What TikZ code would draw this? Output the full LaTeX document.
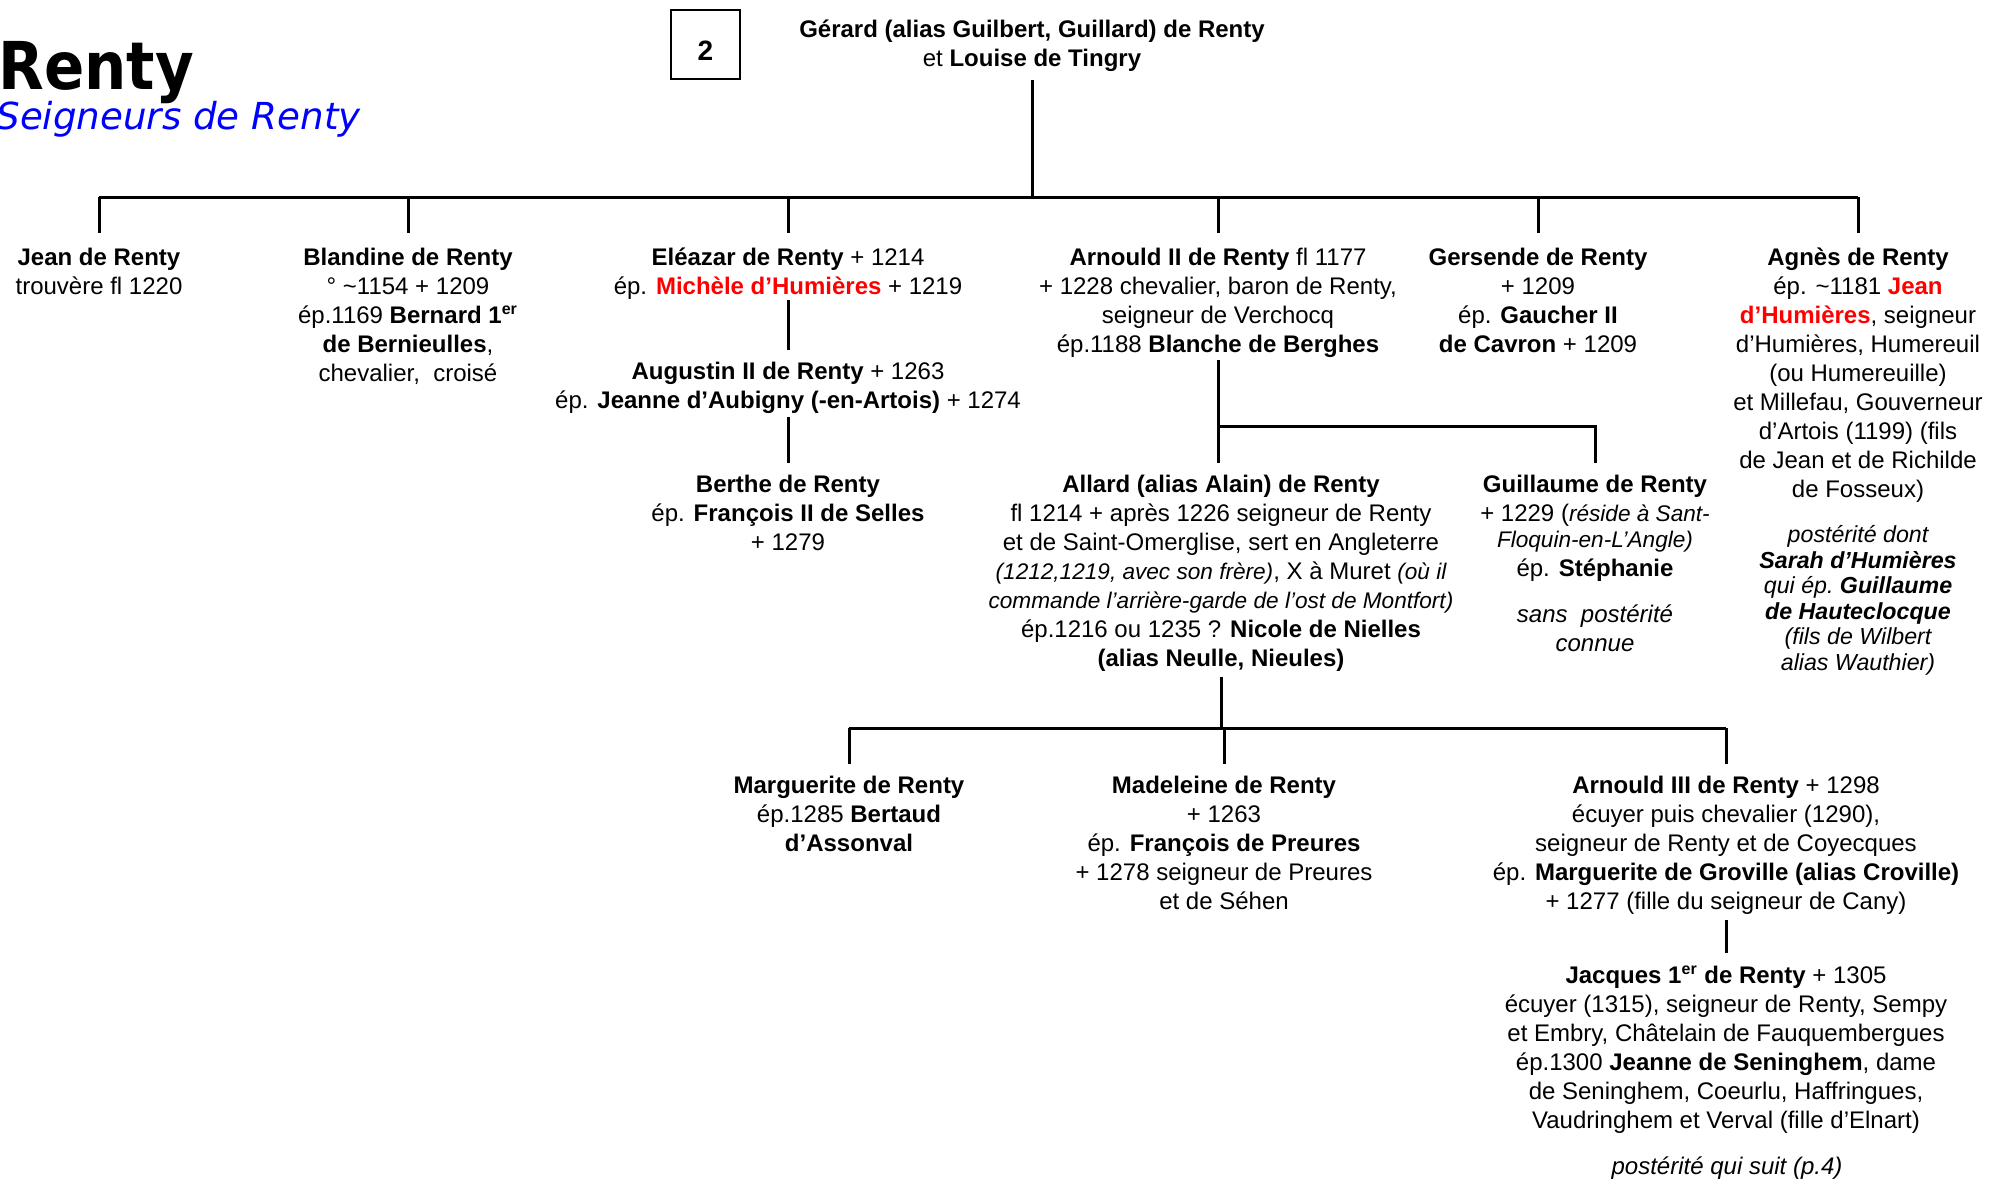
\documentclass[tikz,border=0pt]{standalone}
\usepackage{fontspec}
\setmainfont{Liberation Sans}
\newfontfamily\titlefont{DejaVu Sans}
\definecolor{hred}{RGB}{255,0,0}
\definecolor{hblue}{RGB}{0,0,255}
\newcommand\persfont{\fontsize{12}{14.5}\selectfont}
\newcommand\itsm{\itshape\fontsize{11.3}{12}\selectfont}
\newcommand\firstln{\rule{0pt}{11pt}}
\tikzset{
  person/.style={anchor=north, align=center, inner sep=0pt, font=\persfont},
  smallnote/.style={anchor=north, align=center, inner sep=0pt, font=\itshape\fontsize{11.6}{12.8}\selectfont},
  link/.style={line width=1.5pt},
}
\begin{document}
\begin{tikzpicture}[x=0.5pt,y=-0.5pt]
\useasboundingbox (0,0) rectangle (1993,1179);

% title
\node[anchor=base west, inner sep=0pt, font=\titlefont\bfseries\fontsize{33}{36}\selectfont] (title) at (-2,89) {\scalebox{0.9}[1]{Renty}};
\node[anchor=base west, inner sep=0pt, text=hblue, font=\titlefont\itshape\fontsize{18.6}{20}\selectfont] (subtitle) at (-4,129) {Seigneurs de Renty};

\node[draw, line width=0.6pt, minimum width=34.5pt, minimum height=34.5pt, inner sep=0pt] (numbox) at (705.5,44.5) {};
\node[inner sep=0pt, font=\bfseries\fontsize{14}{16}\selectfont] (numtxt) at (705.5,51) {2};

% root
\node[person] (root) at (1032,15) {\firstln\textbf{Gérard (alias Guilbert, Guillard) de Renty}\\et \textbf{Louise de Tingry}};

% generation 1
\node[person] (jean) at (99,243) {\firstln\textbf{Jean de Renty}\\trouvère fl 1220};
\node[person] (blandine) at (408,243) {\firstln\textbf{Blandine de Renty}\\° \textasciitilde1154 + 1209\\ép.1169 \textbf{Bernard 1\textsuperscript{er}}\\\textbf{de Bernieulles},\\chevalier,\ \ croisé};
\node[person] (eleazar) at (788,243) {\firstln\textbf{Eléazar de Renty} + 1214\\ép. \textcolor{hred}{\textbf{Michèle d’Humières}} + 1219};
\node[person] (arnould) at (1218,243) {\firstln\textbf{Arnould II de Renty} fl 1177\\+ 1228 chevalier, baron de Renty,\\seigneur de Verchocq\\ép.1188 \textbf{Blanche de Berghes}};
\node[person] (gersende) at (1538,243) {\firstln\textbf{Gersende de Renty}\\+ 1209\\ép. \textbf{Gaucher II}\\\textbf{de Cavron} + 1209};
\node[person] (agnes) at (1858,243) {\firstln\textbf{Agnès de Renty}\\ép. \textasciitilde1181 \textcolor{hred}{\textbf{Jean}}\\\textcolor{hred}{\textbf{d’Humières}}, seigneur\\d’Humières, Humereuil\\(ou Humereuille)\\et Millefau, Gouverneur\\d’Artois (1199) (fils\\de Jean et de Richilde\\de Fosseux)};
\node[smallnote] (agnesP) at (1858,520) {\firstln postérité\ dont\\\textbf{Sarah\ d’Humières}\\qui\ ép.\ \textbf{Guillaume}\\\textbf{de\ Hauteclocque}\\(fils\ de\ Wilbert\\alias\ Wauthier)};

% generation 2
\node[person] (augustin) at (788,357) {\firstln\textbf{Augustin II de Renty} + 1263\\ép. \textbf{Jeanne d’Aubigny (-en-Artois)} + 1274};
\node[person] (berthe) at (788,470) {\firstln\textbf{Berthe de Renty}\\ép. \textbf{François II de Selles}\\+ 1279};
\node[person] (allard) at (1221,470) {\firstln\textbf{Allard (alias Alain) de Renty}\\fl 1214 + après 1226 seigneur de Renty\\et de Saint-Omerglise, sert en Angleterre\\{\itsm (1212,1219, avec son frère)}, X à Muret {\itsm (où il}\\{\itsm commande l’arrière-garde de l’ost de Montfort)}\\ép.1216 ou 1235 ? \textbf{Nicole de Nielles}\\\textbf{(alias Neulle, Nieules)}};
\node[person] (guillaume) at (1595,470) {\firstln\textbf{Guillaume de Renty}\\+ 1229 ({\itsm réside à Sant-}\\[-1.5pt]{\itsm Floquin-en-L’Angle)}\\ép. \textbf{Stéphanie}};
\node[person, font=\persfont\itshape] (guilP) at (1595,600) {\firstln sans\ \ postérité\\connue};

% generation 3
\node[person] (marg) at (849,771) {\firstln\textbf{Marguerite de Renty}\\ép.1285 \textbf{Bertaud}\\\textbf{d’Assonval}};
\node[person] (madel) at (1224,771) {\firstln\textbf{Madeleine de Renty}\\+ 1263\\ép. \textbf{François de Preures}\\+ 1278 seigneur de Preures\\et de Séhen};
\node[person] (arn3) at (1726,771) {\firstln\textbf{Arnould III de Renty} + 1298\\écuyer puis chevalier (1290),\\seigneur de Renty et de Coyecques\\ép. \textbf{Marguerite de Groville (alias Croville)}\\+ 1277 (fille du seigneur de Cany)};
\node[person] (jacques) at (1726,961) {\firstln\textbf{Jacques 1\textsuperscript{er} de Renty} + 1305\\écuyer (1315), seigneur de Renty, Sempy\\et Embry, Châtelain de Fauquembergues\\ép.1300 \textbf{Jeanne de Seninghem}, dame\\de Seninghem, Coeurlu, Haffringues,\\Vaudringhem et Verval (fille d’Elnart)};
\node[person, font=\persfont\itshape] (jacP) at (1727,1152) {\firstln postérité qui suit (p.4)};

% connectors
\coordinate (barA) at (0,197);
\coordinate (barB) at (0,728);
\draw[link] (root.south |- 0,80) -- (root.south |- barA);
\draw[link] (jean.north |- barA) -- (agnes.north |- barA);
\foreach \n in {jean,blandine,eleazar,arnould,gersende,agnes}
  \draw[link] (\n.north |- barA) -- (\n.north |- 0,233);
\draw[link] (eleazar.south |- 0,300) -- (augustin.north |- 0,350);
\draw[link] (augustin.south |- 0,417) -- (berthe.north |- 0,463);
\draw[link] (arnould.south |- 0,360) -- (arnould.south |- 0,463);
\draw[link] (arnould.south |- 0,426) -- (guillaume.north |- 0,426) -- (guillaume.north |- 0,463);
\draw[link] (allard.south |- 0,677) -- (allard.south |- barB);
\draw[link] (marg.north |- barB) -- (arn3.north |- barB);
\foreach \n in {marg,madel,arn3}
  \draw[link] (\n.north |- barB) -- (\n.north |- 0,764);
\draw[link] (arn3.south |- 0,920) -- (jacques.north |- 0,953);
\end{tikzpicture}
\end{document}
